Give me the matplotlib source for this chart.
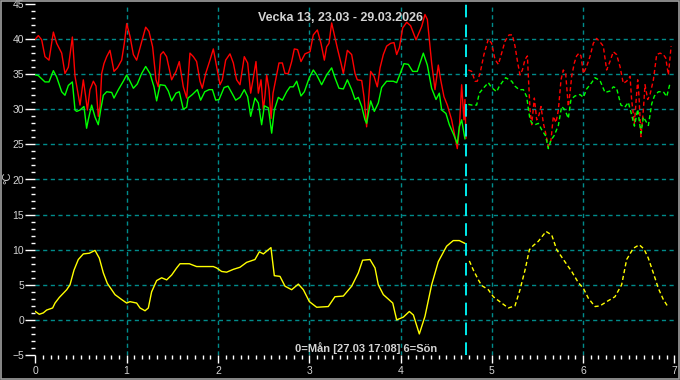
import matplotlib
matplotlib.use("Agg")
import matplotlib.pyplot as plt
from matplotlib.ticker import MultipleLocator
from matplotlib.patches import Rectangle

# time is in days since Monday 00:00 (0=Mån ... 6=Sön)
title = "Vecka 13, 23.03 - 29.03.2026"
footer = "0=Mån [27.03 17:08] 6=Sön"
now_day = 4 + 17 / 24 + 8 / 1440

red_t = [0.0, 0.033, 0.070, 0.106, 0.150, 0.198, 0.234, 0.289, 0.325, 0.362,
         0.406, 0.435, 0.460, 0.490, 0.526, 0.552, 0.570, 0.599, 0.636, 0.665,
         0.690, 0.709, 0.727, 0.752, 0.782, 0.818, 0.862, 0.899, 0.946, 0.975,
         1.001, 1.037, 1.074, 1.110, 1.165, 1.209, 1.245, 1.285, 1.322, 1.347,
         1.373, 1.402, 1.438, 1.493, 1.541, 1.577, 1.621, 1.658, 1.694, 1.731,
         1.767, 1.804, 1.829, 1.866, 1.913, 1.950, 1.986, 2.023, 2.048, 2.085,
         2.132, 2.169, 2.205, 2.242, 2.289, 2.326, 2.359, 2.388, 2.417, 2.443,
         2.472, 2.498, 2.516, 2.534, 2.560, 2.582, 2.604, 2.633, 2.669, 2.706,
         2.735, 2.771, 2.808, 2.837, 2.873, 2.910, 2.954, 3.009, 3.045, 3.089,
         3.129, 3.166, 3.191, 3.217, 3.246, 3.275, 3.312, 3.348, 3.374, 3.418,
         3.465, 3.502, 3.527, 3.575, 3.600, 3.629, 3.673, 3.710, 3.746, 3.776,
         3.812, 3.848, 3.892, 3.929, 3.958, 3.988, 4.024, 4.068, 4.111, 4.170,
         4.232, 4.268, 4.294, 4.316, 4.341, 4.378, 4.414, 4.440, 4.476, 4.513,
         4.560, 4.597, 4.622, 4.644, 4.670, 4.695, 4.706, 4.717]
red_v = [40.0, 40.5, 39.9, 37.5, 37.0, 41.0, 39.4, 38.0, 35.1, 36.0,
         40.3, 34.7, 32.8, 30.6, 34.2, 31.8, 29.9, 32.8, 34.0, 33.3,
         29.0, 30.4, 35.1, 36.5, 37.5, 38.4, 35.4, 35.9, 37.0, 39.4,
         42.2, 40.4, 37.8, 37.0, 39.6, 41.7, 41.1, 38.9, 34.2, 33.2,
         37.8, 38.2, 37.5, 34.2, 35.4, 36.8, 33.2, 31.6, 38.0, 37.5,
         36.8, 34.0, 33.0, 35.1, 37.0, 38.6, 36.1, 33.5, 34.2, 37.0,
         37.9, 36.6, 34.2, 33.5, 37.5, 36.6, 32.3, 34.5, 36.8, 32.3,
         34.2, 29.9, 32.0, 34.9, 32.8, 28.7, 32.3, 34.2, 36.6, 36.6,
         35.1, 35.1, 36.8, 38.6, 38.5, 36.8, 37.9, 38.2, 40.6, 41.3,
         39.4, 37.0, 38.9, 39.4, 42.3, 40.6, 38.5, 36.6, 35.1, 38.4,
         37.8, 35.1, 34.2, 34.1, 31.8, 27.5, 35.4, 34.7, 33.2, 35.9,
         37.8, 39.0, 39.4, 39.5, 37.8, 38.8, 41.6, 42.4, 41.9, 39.9,
         41.8, 43.5, 42.8, 39.9, 36.6, 32.8, 36.3, 34.2, 31.8, 30.6,
         28.5, 26.1, 24.4, 27.2, 33.5, 28.5, 31.4, 25.9]

green_t = [0.0, 0.033, 0.106, 0.150, 0.198, 0.234, 0.289, 0.325, 0.362, 0.406,
           0.435, 0.453, 0.490, 0.533, 0.562, 0.580, 0.617, 0.654, 0.690, 0.716,
           0.745, 0.782, 0.837, 0.862, 0.910, 0.964, 1.001, 1.037, 1.074, 1.117,
           1.165, 1.209, 1.256, 1.300, 1.329, 1.366, 1.420, 1.457, 1.493, 1.541,
           1.577, 1.621, 1.658, 1.673, 1.720, 1.775, 1.811, 1.856, 1.903, 1.940,
           1.976, 2.013, 2.068, 2.111, 2.158, 2.195, 2.242, 2.289, 2.326, 2.359,
           2.406, 2.443, 2.479, 2.509, 2.553, 2.589, 2.618, 2.662, 2.706, 2.753,
           2.790, 2.826, 2.863, 2.910, 2.947, 2.998, 3.045, 3.082, 3.136, 3.191,
           3.246, 3.282, 3.326, 3.374, 3.418, 3.465, 3.502, 3.538, 3.575, 3.611,
           3.629, 3.673, 3.713, 3.757, 3.793, 3.848, 3.921, 3.958, 3.994, 4.038,
           4.086, 4.133, 4.184, 4.214, 4.250, 4.294, 4.341, 4.389, 4.425, 4.451,
           4.498, 4.535, 4.579, 4.622, 4.644, 4.670, 4.695, 4.706]
green_v = [34.9, 34.8, 33.9, 33.9, 35.5, 34.6, 32.5, 32.0, 33.4, 33.9,
           29.9, 29.7, 29.9, 30.4, 27.3, 28.5, 30.6, 28.9, 27.8, 29.9,
           32.0, 32.5, 32.4, 31.6, 32.8, 34.0, 34.9, 34.0, 33.0, 33.6,
           35.1, 36.1, 35.1, 33.2, 31.2, 33.5, 33.4, 32.6, 31.2, 32.3,
           32.5, 30.0, 30.3, 31.6, 32.1, 32.8, 31.3, 32.5, 32.8, 32.8,
           31.3, 31.4, 33.1, 33.3, 32.2, 31.3, 31.7, 32.8, 31.8, 29.0,
           31.6, 30.9, 27.8, 30.5, 30.2, 26.6, 29.9, 31.7, 31.3, 32.5,
           33.2, 33.2, 34.0, 31.9, 32.5, 34.4, 35.6, 34.9, 33.5, 34.9,
           35.9, 34.5, 33.0, 32.9, 34.2, 32.8, 31.4, 31.7, 30.4, 28.5,
           28.0, 31.2, 29.7, 30.9, 33.1, 34.0, 34.0, 33.8, 35.0, 36.5,
           36.4, 35.4, 35.4, 36.6, 38.0, 36.3, 33.0, 31.4, 32.3, 29.9,
           29.4, 27.8, 26.5, 25.1, 27.5, 28.5, 26.6, 25.8]

yellow_t = [0.0, 0.044, 0.088, 0.124, 0.190, 0.216, 0.263, 0.344, 0.380, 0.424,
            0.471, 0.526, 0.592, 0.654, 0.701, 0.745, 0.789, 0.873, 0.946, 1.001,
            1.037, 1.110, 1.147, 1.202, 1.238, 1.274, 1.329, 1.384, 1.439, 1.494,
            1.548, 1.585, 1.687, 1.767, 1.848, 1.950, 1.986, 2.041, 2.096, 2.169,
            2.242, 2.315, 2.406, 2.454, 2.498, 2.581, 2.618, 2.680, 2.735, 2.808,
            2.881, 2.936, 3.002, 3.082, 3.209, 3.282, 3.374, 3.465, 3.538, 3.585,
            3.666, 3.721, 3.757, 3.812, 3.915, 3.958, 4.031, 4.097, 4.141, 4.206,
            4.268, 4.341, 4.414, 4.505, 4.578, 4.644, 4.706]
yellow_v = [1.2, 0.8, 1.0, 1.4, 1.7, 2.4, 3.2, 4.3, 5.0, 7.1,
            8.6, 9.4, 9.5, 9.9, 8.8, 6.7, 5.2, 3.6, 2.9, 2.4,
            2.6, 2.4, 1.7, 1.3, 1.7, 4.0, 5.6, 6.0, 5.7, 6.4,
            7.4, 8.0, 8.0, 7.6, 7.6, 7.6, 7.4, 6.9, 6.8, 7.2,
            7.5, 8.2, 8.6, 9.7, 9.4, 10.3, 6.3, 6.2, 4.8, 4.3,
            5.1, 4.3, 2.6, 1.8, 1.9, 3.3, 3.4, 4.8, 6.7, 8.5,
            8.6, 7.4, 5.0, 3.6, 2.4, 0.0, 0.4, 1.2, 0.7, -2.0,
            0.5, 5.0, 8.3, 10.5, 11.3, 11.3, 10.9]

# forecast part (dashed)
red_fc_t = [4.743, 4.780, 4.816, 4.841, 4.871, 4.914, 4.962, 4.998, 5.035, 5.072,
            5.108, 5.145, 5.189, 5.225, 5.254, 5.284, 5.309, 5.335, 5.364, 5.390,
            5.400, 5.419, 5.437, 5.466, 5.492, 5.517, 5.539, 5.565, 5.590, 5.619,
            5.648, 5.674, 5.703, 5.729, 5.758, 5.783, 5.809, 5.838, 5.856, 5.875,
            5.904, 5.929, 5.955, 5.977, 6.003, 6.039, 6.075, 6.112, 6.148, 6.185,
            6.221, 6.258, 6.294, 6.331, 6.367, 6.404, 6.440, 6.477, 6.514, 6.532,
            6.562, 6.598, 6.612, 6.634, 6.660, 6.678, 6.708, 6.733, 6.770, 6.806,
            6.843, 6.879, 6.905, 6.934, 6.964]
red_fc_v = [35.6, 35.4, 34.0, 34.0, 35.1, 37.8, 40.0, 39.4, 37.1, 36.4,
            38.0, 39.7, 40.6, 40.6, 39.0, 36.6, 34.9, 35.6, 37.1, 37.6,
            34.8, 29.9, 27.8, 31.6, 28.5, 29.2, 30.4, 28.0, 26.6, 24.7,
            25.6, 29.0, 28.1, 29.9, 34.2, 35.6, 35.1, 30.4, 32.3, 34.7,
            36.6, 37.6, 38.0, 37.6, 35.1, 36.1, 37.5, 39.4, 40.1, 39.6,
            39.0, 35.6, 36.8, 38.2, 37.8, 36.1, 33.7, 34.0, 34.7, 31.3,
            28.0, 34.2, 31.9, 26.1, 29.9, 33.5, 31.4, 32.1, 34.2, 37.8,
            38.0, 37.8, 37.3, 34.9, 39.0]

green_fc_t = [4.743, 4.780, 4.834, 4.863, 4.907, 4.962, 4.998, 5.053, 5.079, 5.116,
              5.152, 5.218, 5.254, 5.298, 5.346, 5.382, 5.400, 5.419, 5.444, 5.473,
              5.510, 5.546, 5.590, 5.619, 5.648, 5.685, 5.729, 5.765, 5.802, 5.838,
              5.867, 5.911, 5.966, 6.003, 6.039, 6.094, 6.130, 6.185, 6.240, 6.294,
              6.331, 6.367, 6.414, 6.458, 6.495, 6.532, 6.562, 6.598, 6.634, 6.660,
              6.715, 6.752, 6.781, 6.825, 6.879, 6.916, 6.952]
green_fc_v = [30.7, 30.6, 30.6, 32.3, 33.0, 33.8, 33.1, 32.5, 33.2, 33.9,
              34.5, 34.0, 33.3, 32.8, 32.8, 31.8, 30.1, 28.5, 28.0, 27.8,
              28.0, 27.1, 26.2, 24.4, 25.6, 26.3, 27.7, 30.4, 29.9, 28.7,
              31.4, 31.9, 32.1, 31.7, 32.9, 33.8, 34.5, 34.1, 32.4, 32.6,
              33.2, 33.0, 30.6, 30.3, 31.0, 29.2, 27.6, 30.0, 26.6, 28.9,
              27.7, 30.8, 31.9, 32.5, 32.5, 31.8, 33.7]

yellow_fc_t = [4.754, 4.798, 4.853, 4.889, 4.962, 5.017, 5.108, 5.181, 5.254, 5.309,
               5.364, 5.412, 5.455, 5.510, 5.594, 5.656, 5.711, 5.784, 5.875, 5.948,
               6.003, 6.057, 6.130, 6.185, 6.258, 6.349, 6.422, 6.477, 6.550, 6.615,
               6.667, 6.714, 6.769, 6.824, 6.879, 6.923]
yellow_fc_v = [8.4, 7.1, 5.7, 4.9, 4.3, 3.3, 2.4, 1.7, 2.0, 4.3,
               7.1, 10.0, 10.6, 11.2, 12.6, 12.1, 10.0, 8.6, 6.9, 5.3,
               4.5, 3.1, 1.9, 2.0, 2.6, 3.3, 5.0, 8.6, 10.2, 10.7,
               10.1, 8.8, 6.7, 4.5, 2.9, 2.0]

plt.rcParams['font.family'] = ['Liberation Sans', 'DejaVu Sans']
txt_color = "#d4d4d4"
grid_color = "#008b8b"

fig = plt.figure(figsize=(6.8, 3.8), dpi=100, facecolor="black")
ax = fig.add_axes([35.3 / 680, 1 - 355 / 380, (674.4 - 35.3) / 680, 351 / 380])
ax.set_facecolor("black")

dash = (0, (3, 2))
ax.plot(red_t, red_v, color="#ff0000", lw=1)
ax.plot(green_t, green_v, color="#00ff00", lw=1)
ax.plot(yellow_t, yellow_v, color="#ffff00", lw=1)
ax.plot(red_fc_t, red_fc_v, color="#ff0000", lw=1, ls=dash)
ax.plot(green_fc_t, green_fc_v, color="#00ff00", lw=1, ls=dash)
ax.plot(yellow_fc_t, yellow_fc_v, color="#ffff00", lw=1, ls=dash)
ax.axvline(now_day, color="#00ffff", lw=1.3, ls=(0, (7, 4)))

ax.set_xlim(0, 7)
ax.set_ylim(-5, 45)
ax.xaxis.set_major_locator(MultipleLocator(1))
ax.xaxis.set_minor_locator(MultipleLocator(1 / 12))
ax.yaxis.set_major_locator(MultipleLocator(5))
ax.yaxis.set_minor_locator(MultipleLocator(1))

for s in ax.spines.values():
    s.set_visible(False)

ax.tick_params(which="major", colors="white", labelcolor=txt_color, labelsize=7.5)
ax.tick_params(axis="y", which="major", length=7, width=1, pad=1)
ax.tick_params(axis="y", which="minor", length=3, width=1, colors="white")
ax.tick_params(axis="x", which="major", length=6, width=1, pad=2)
ax.tick_params(axis="x", which="minor", length=3, width=1, colors="white")

# dashed grid, but not on the outer edges
for d in range(1, 7):
    ax.axvline(d, color=grid_color, lw=1, ls=(0, (3, 2.5)), zorder=0)
for v in range(0, 45, 5):
    ax.axhline(v, color=grid_color, lw=1, ls=(0, (3, 2.5)), zorder=0)

ax.set_ylabel("°C", color=txt_color, fontsize=8, labelpad=0)
ax.yaxis.set_label_coords(-23 / 639, 0.505)

fig.text(341 / 680, 1 - 18 / 380, title, color=txt_color, fontsize=9,
         fontweight="bold", ha="center", va="center")
fig.text(366 / 680, 1 - 348 / 380, footer, color=txt_color, fontsize=8,
         fontweight="bold", ha="center", va="center")

fig.patches.append(Rectangle((0.001, 0.002), 0.997, 0.995, transform=fig.transFigure,
                             fill=False, edgecolor="#a0a0a0", lw=1.2))

fig.savefig("out.png", dpi=100, facecolor="black")
